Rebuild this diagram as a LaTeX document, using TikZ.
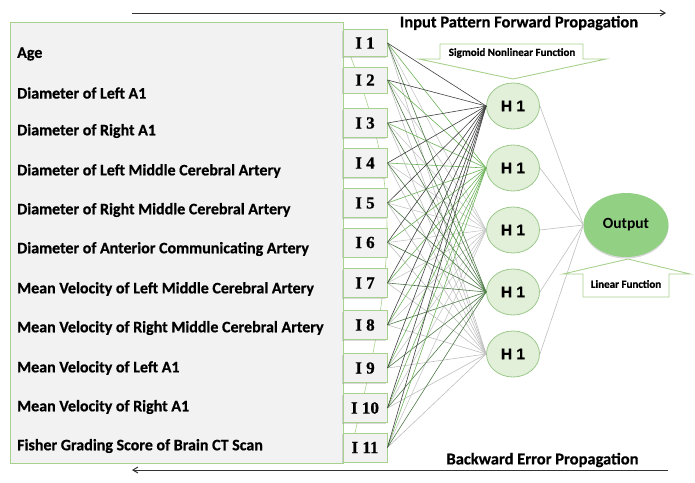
\documentclass[tikz,border=0pt]{standalone}
\usepackage{fontspec}
\setmainfont{Carlito}[BoldFeatures={FakeBold=0.6}]
\newfontfamily\plainb{Carlito}
\newfontfamily\serifb{Liberation Serif}[BoldFeatures={FakeBold=0.8}]
\newfontfamily\sansb{Liberation Sans}[BoldFeatures={FakeBold=0.5}]
\usetikzlibrary{shadows,arrows.meta,shapes.geometric}
\definecolor{boxgreen}{HTML}{A9D18E}
\definecolor{edgegreen}{HTML}{6DB35A}
\definecolor{edgedkgreen}{HTML}{4E7A47}
\definecolor{hfill}{HTML}{E2F0D9}
\definecolor{hdraw}{HTML}{9CC98B}
\definecolor{outfill}{HTML}{92D084}
\definecolor{panel}{HTML}{F2F2F2}
\definecolor{ink}{HTML}{000000}
\tikzset{
  panelbox/.style={draw=boxgreen, fill=panel, line width=0.8pt},
  inbox/.style={draw=boxgreen, line width=0.9pt, fill=panel, minimum width=44pt, inner sep=0pt, text=ink,
     font=\serifb\bfseries\fontsize{17}{17}\selectfont, drop shadow={opacity=0.3, shadow xshift=-1.2pt, shadow yshift=-1.2pt}},
  lab/.style={anchor=west, font=\bfseries\fontsize{16}{16}\selectfont, inner sep=0pt, text=ink},
  hnode/.style={ellipse, draw=hdraw, fill=hfill, line width=0.8pt, minimum width=53pt, minimum height=46pt, inner sep=0pt, text=ink,
     font=\sansb\bfseries\fontsize{15.5}{15.5}\selectfont},
  outnode/.style={ellipse, draw=none, fill=outfill, minimum width=85pt, minimum height=64pt, inner sep=0pt, text=ink,
     font=\plainb\bfseries\fontsize{15.5}{15.5}\selectfont, drop shadow={opacity=0.3, shadow xshift=0pt, shadow yshift=-1.5pt}},
  calloutshape/.style={draw=boxgreen, fill=white, line width=0.9pt},
  e1/.style={draw=black!75, line width=0.6pt},
  e2/.style={draw=edgegreen, line width=0.6pt},
  e3/.style={draw=black!22, line width=0.6pt},
  e4/.style={draw=edgedkgreen, line width=0.6pt},
  e5/.style={draw=black!25, line width=0.6pt},
  eo/.style={draw=black!25, line width=0.6pt},
  flow/.style={draw=black!80, line width=1pt, -{Straight Barb[length=5pt,width=6pt]}},
  flowtxt/.style={font=\bfseries\fontsize{16.5}{16.5}\selectfont, inner sep=0pt, text=ink},
  smalltxt/.style={font=\bfseries\fontsize{11}{11}\selectfont, inner sep=0pt, text=ink}
}
\begin{document}
\begin{tikzpicture}[x=1pt, y=-1pt]
\useasboundingbox (0,0) rectangle (695,482);
% panel
\path[panelbox] (10,22) rectangle (343,463);
% faint curve behind input boxes
\draw[boxgreen, line width=0.6pt] (348,50) .. controls (400,180) and (400,260) .. (348,460);
% labels
\node[lab] (l1) at (17,54) {Age};
\node[lab] (l2) at (17,93) {Diameter of Left A1};
\node[lab] (l3) at (17,131) {Diameter of Right A1};
\node[lab] (l4) at (17,171) {Diameter of Left Middle Cerebral Artery};
\node[lab] (l5) at (17,210) {Diameter of Right Middle Cerebral Artery};
\node[lab] (l6) at (17,249) {Diameter of Anterior Communicating Artery};
\node[lab] (l7) at (17,289) {Mean Velocity of Left Middle Cerebral Artery};
\node[lab] (l8) at (17,328) {Mean Velocity of Right Middle Cerebral Artery};
\node[lab] (l9) at (17,368) {Mean Velocity of Left A1};
\node[lab] (l10) at (17,407) {Mean Velocity of Right A1};
\node[lab] (l11) at (17,446) {Fisher Grading Score of Brain CT Scan};
% hidden and output nodes
\node[hnode] (h1) at (513,106) {H 1};
\node[hnode] (h2) at (513,168) {H 1};
\node[hnode] (h3) at (513,230) {H 1};
\node[hnode] (h4) at (513,292) {H 1};
\node[hnode] (h5) at (513,354) {H 1};
\node[outnode] (out) at (626,225) {Output};
% input boxes
\node[inbox, minimum height=27pt] (i1) at (365,43) {I 1};
\node[inbox, minimum height=26pt] (i2) at (365,80) {I 2};
\node[inbox, minimum height=29pt] (i3) at (365,123) {I 3};
\node[inbox, minimum height=29pt] (i4) at (365,163) {I 4};
\node[inbox, minimum height=29pt] (i5) at (365,203) {I 5};
\node[inbox, minimum height=29pt] (i6) at (365,242.5) {I 6};
\node[inbox, minimum height=29pt] (i7) at (365,283) {I 7};
\node[inbox, minimum height=29pt] (i8) at (365,325) {I 8};
\node[inbox, minimum height=29pt] (i9) at (365,368) {I 9};
\node[inbox, minimum height=29pt] (i10) at (365,408) {I 10};
\node[inbox, minimum height=29pt] (i11) at (365,447.5) {I 11};
% edges input -> hidden
\foreach \i in {1,...,11}{
  \path[e3] (i\i.east) -- (h3.west);
  \path[e5] (i\i.east) -- (h5.west);
}
\foreach \i in {1,...,11}{
  \path[e2] (i\i.east) -- (h2.west);
  \path[e4] (i\i.east) -- (h4.west);
}
\foreach \i in {1,...,11}{
  \path[e1] (i\i.east) -- (h1.west);
}
% hidden -> output
\foreach \h in {1,...,5}{
  \path[eo] (h\h.east) -- (out.west);
}
% sigmoid callout
\path[calloutshape] (440,44) -- (583,44) -- (583,59) -- (606,59) -- (513,79) -- (419,59) -- (440,59) -- cycle;
\node[smalltxt] (sig) at (512,53) {Sigmoid Nonlinear Function};
% linear callout
\path[calloutshape] (628,259) -- (690,274) -- (669,274) -- (669,297) -- (583,297) -- (583,274) -- (563,274) -- cycle;
\node[smalltxt] (lin) at (626,284) {Linear Function};
% flow arrows
\coordinate (fa) at (132,13);
\coordinate (fb) at (666,13);
\draw[flow] (fa) -- (fb);
\node[flowtxt] (ftxt) at (519,23) {Input Pattern Forward Propagation};
\coordinate (ba) at (668,470);
\coordinate (bb) at (132,470);
\draw[flow] (ba) -- (bb);
\node[flowtxt] (btxt) at (542.5,460) {Backward Error Propagation};
\end{tikzpicture}
\end{document}
